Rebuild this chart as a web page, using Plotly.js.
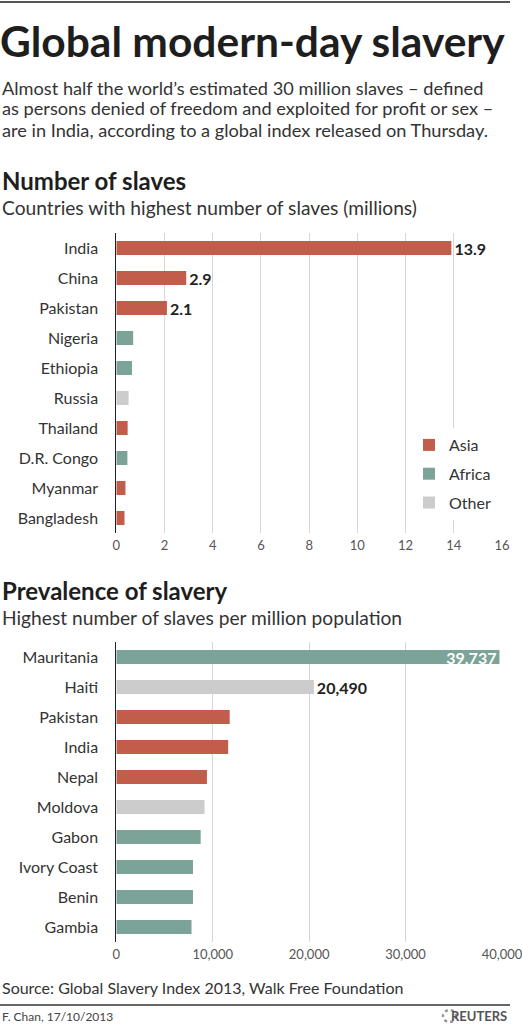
<!DOCTYPE html>
<html>
<head>
<meta charset="utf-8">
<script src="https://cdn.plot.ly/plotly-3.0.1.min.js"></script>
<style>html,body{margin:0;padding:0;background:#fff;} #chart{width:522px;height:1024px;}</style>
</head>
<body>
<div id="chart"></div>
<script>
// ---- Data: number of slaves (millions) ----
const countriesA = ["India","China","Pakistan","Nigeria","Ethiopia","Russia","Thailand","D.R. Congo","Myanmar","Bangladesh"];
const valuesA    = [13.9, 2.9, 2.1, 0.70, 0.65, 0.51, 0.47, 0.46, 0.38, 0.34];
const regionsA   = ["Asia","Asia","Asia","Africa","Africa","Other","Asia","Africa","Asia","Asia"];
const labelsA    = ["13.9","2.9","2.1","","","","","","",""];
const ticksA     = [0,2,4,6,8,10,12,14,16];

// ---- Data: prevalence (slaves per million population) ----
const countriesB = ["Mauritania","Haiti","Pakistan","India","Nepal","Moldova","Gabon","Ivory Coast","Benin","Gambia"];
const valuesB    = [39737, 20490, 11760, 11600, 9400, 9150, 8750, 7950, 7950, 7800];
const regionsB   = ["Africa","Other","Asia","Asia","Asia","Other","Africa","Africa","Africa","Africa"];
const labelsB    = ["39,737","20,490","","","","","","","",""];
const ticksB     = [0,10000,20000,30000,40000];

const regions = ["Asia","Africa","Other"];
const colors = {Asia:"#c25c4b", Africa:"#7ba398", Other:"#cccccc"};

const FONT = "Lato, 'Open Sans', sans-serif";
const W = 522, H = 1024;
const py = p => 1 - p / H;
const px = p => p / W;

const traces = [];
regions.forEach(r => {
  const idx = countriesA.map((c,i)=>i).filter(i => regionsA[i] === r);
  traces.push({
    type:"bar", orientation:"h", name:r, legendgroup:r,
    x: idx.map(i=>valuesA[i]), y: idx.map(i=>countriesA[i]),
    text: idx.map(i=>labelsA[i]), textposition:"outside",
    textfont:{family:FONT, size:16, color:"#222", weight:700},
    constraintext:"none", cliponaxis:false,
    marker:{color:colors[r]}, width:0.47,
    xaxis:"x", yaxis:"y", hoverinfo:"x+y"
  });
});
regions.forEach(r => {
  const idx = countriesB.map((c,i)=>i).filter(i => regionsB[i] === r);
  traces.push({
    type:"bar", orientation:"h", name:r, legendgroup:r, showlegend:false,
    x: idx.map(i=>valuesB[i]), y: idx.map(i=>countriesB[i]),
    text: idx.map(i=>labelsB[i]),
    textposition: idx.map(i => valuesB[i] > 30000 ? "inside" : "outside"),
    insidetextanchor:"end",
    insidetextfont:{family:FONT, size:16, color:"#ffffff", weight:700},
    outsidetextfont:{family:FONT, size:16, color:"#222", weight:700},
    constraintext:"none", cliponaxis:false,
    marker:{color:colors[r]}, width:0.47,
    xaxis:"x2", yaxis:"y2", hoverinfo:"x+y"
  });
});

const axX = {
  showgrid:true, gridcolor:"#d6d6d6", gridwidth:1, zeroline:false, showline:false,
  ticks:"", ticklabelstandoff:3, ticklabeloverflow:"allow",
  tickfont:{family:FONT, size:13, color:"#555"}, fixedrange:true
};
const axY = {
  type:"category", showgrid:false, zeroline:false, showline:true, linecolor:"#222", linewidth:1,
  ticks:"", ticklabelstandoff:14, tickfont:{family:FONT, size:16, color:"#333"}, fixedrange:true
};

const layout = {
  width:W, height:H, margin:{l:0,r:0,t:0,b:0},
  paper_bgcolor:"#fff", plot_bgcolor:"rgba(0,0,0,0)",
  barmode:"overlay", bargap:0.5,
  font:{family:FONT, color:"#333"},
  title:{text:"<b>Global modern-day slavery</b>", x:0, xref:"paper", xanchor:"left",
         y:py(42), yref:"container", yanchor:"middle",
         font:{family:FONT, size:42.5, color:"#1e1e1e"}},
  xaxis: Object.assign({}, axX, {domain:[px(116.3), px(502)], range:[0,16], tickvals:ticksA, anchor:"y"}),
  yaxis: Object.assign({}, axY, {domain:[py(533), py(233)], categoryarray:countriesA, categoryorder:"array", range:[9.5,-0.5], anchor:"x"}),
  xaxis2: Object.assign({}, axX, {domain:[px(116.3), px(502)], range:[0,40000], tickvals:ticksB, tickformat:",", anchor:"y2"}),
  yaxis2: Object.assign({}, axY, {domain:[py(942), py(642)], categoryarray:countriesB, categoryorder:"array", range:[9.5,-0.5], anchor:"x2"}),
  showlegend:true,
  legend:{x:px(409), xanchor:"left", y:py(428), yanchor:"top", bgcolor:"#fff",
          font:{family:FONT, size:16, color:"#333"}, traceorder:"grouped", tracegroupgap:5, itemwidth:30},
  annotations:[
    {text:"Almost half the world’s estimated 30 million slaves – defined", x:0, y:py(87.5)},
    {text:"as persons denied of freedom and exploited for profit or sex –", x:0, y:py(108)},
    {text:"are in India, according to a global index released on Thursday.", x:0, y:py(129.5)},
    {text:"<b>Number of slaves</b>", x:0, y:py(180), font:{family:FONT, size:24, color:"#1e1e1e"}},
    {text:"Countries with highest number of slaves (millions)", x:0, y:py(207), font:{family:FONT, size:19.2, color:"#333"}},
    {text:"<b>Prevalence of slavery</b>", x:0, y:py(590), font:{family:FONT, size:24, color:"#1e1e1e"}},
    {text:"Highest number of slaves per million population", x:0, y:py(617), font:{family:FONT, size:19.2, color:"#333"}},
    {text:"Source: Global Slavery Index 2013, Walk Free Foundation", x:0, y:py(987), font:{family:FONT, size:16, color:"#333"}},
    {text:"F. Chan, 17/10/2013", x:0, y:py(1016), font:{family:FONT, size:12, color:"#444"}},
    {text:"<b>REUTERS</b>", x:px(509), xanchor:"right", y:py(1016), font:{family:FONT, size:13, color:"#555"}}
  ].map(a => Object.assign({xref:"paper", yref:"paper", xanchor:"left", yanchor:"middle", showarrow:false,
                            align:"left", font:{family:FONT, size:18.2, color:"#333"}}, a)),
  shapes:[
    {type:"line", xref:"paper", yref:"paper", x0:0, x1:px(510), y0:py(2), y1:py(2), line:{color:"#555", width:2}},
    {type:"line", xref:"paper", yref:"paper", x0:0, x1:px(510), y0:py(1005), y1:py(1005), line:{color:"#333", width:1.5}},
    {type:"circle", xref:"paper", yref:"paper", x0:px(443), x1:px(456), y0:py(1022), y1:py(1010), line:{color:"#999", width:2.5, dash:"dot"}}
  ]
};

Plotly.newPlot("chart", traces, layout, {displayModeBar:false, staticPlot:true});
</script>
</body>
</html>
